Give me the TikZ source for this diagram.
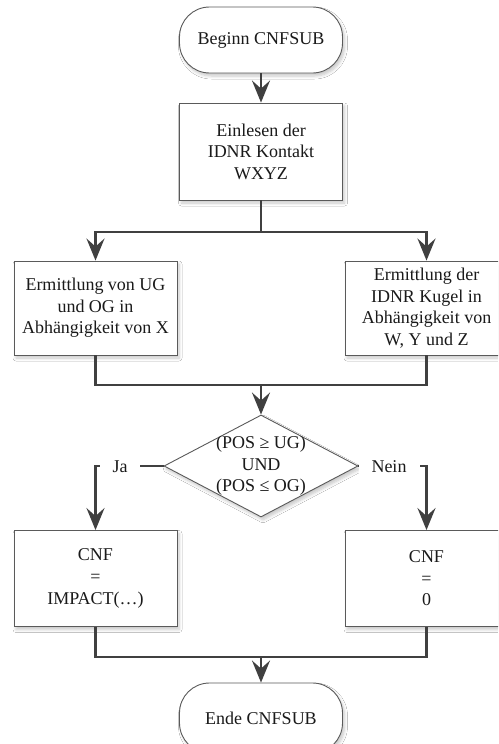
\documentclass[tikz,border=0pt]{standalone}
\usepackage{fontspec}
\setmainfont{Liberation Serif}
\usetikzlibrary{arrows.meta,shapes.geometric,shadows.blur}

\definecolor{linegray}{HTML}{404040}
\definecolor{framegray}{HTML}{5A5A5A}
\definecolor{textdark}{HTML}{1A1A1A}

\tikzset{
  every node/.style={font=\fontsize{18pt}{21.6pt}\selectfont, text=textdark},
  softshadow/.style={blur shadow={shadow xshift=2pt, shadow yshift=-3pt,
      shadow blur steps=6, shadow opacity=22, shadow blur radius=3pt}},
  procbox/.style={draw=framegray, line width=0.9pt, fill=white, softshadow,
      minimum width=163pt, align=center, inner sep=0pt},
  terminal/.style={draw=framegray, line width=0.9pt, fill=white, softshadow,
      rounded corners=30pt, minimum width=163pt, minimum height=66pt, inner sep=0pt},
  decision/.style={draw=framegray, line width=0.9pt, fill=white, softshadow,
      diamond, minimum width=194pt, minimum height=102pt, inner sep=0pt},
  txt/.style={align=center, inner sep=0pt},
  flow/.style={draw=linegray, line width=2.4pt},
  arrow/.style={flow, -{Stealth[length=22pt, width=18pt, inset=8pt]}},
  branchlabel/.style={fill=white, inner xsep=13pt, inner ysep=3pt},
}

\begin{document}
\begin{tikzpicture}[x=1pt, y=-1pt]
  \clip (0,0) rectangle (498,744);
  \fill[white] (0,0) rectangle (498,744);

  % nodes
  \node[terminal] (start) at (261,40) {Beginn CNFSUB};
  \node[procbox, minimum height=97pt] (read) at (261,151.5)
    {Einlesen der\\IDNR Kontakt\\WXYZ};
  \node[procbox, minimum height=94pt] (bounds) at (95.5,308)
    {Ermittlung von UG\\und OG in\\Abhängigkeit von X};
  \node[procbox, minimum height=94pt] (ball) at (426.5,308)
    {Ermittlung der\\IDNR Kugel in\\Abhängigkeit von\\W, Y und Z};
  \node[decision] (dec) at (261,466) {};
  \node[txt] (dectext) at (dec.center) {(POS ≥ UG)\\UND\\(POS ≤ OG)};
  \node[procbox, minimum height=96pt] (impact) at (95.5,578.5)
    {CNF\\=\\IMPACT(…)};
  \node[procbox, minimum height=96pt] (zero) at (426.5,578.5)
    {CNF\\=\\0};
  \node[terminal, minimum height=70pt] (finish) at (261,718) {Ende CNFSUB};

  % junction points
  \coordinate (split) at (261,232);
  \coordinate (merge) at (261,385);
  \coordinate (join) at (261,657);

  % connectors
  \draw[arrow] (start) -- (read);
  \draw[flow] (read.south) -- (split);
  \draw[arrow] (split) -| (bounds.north);
  \draw[arrow] (split) -| (ball.north);

  \draw[flow] (bounds.south) |- (merge) -| (ball.south);
  \draw[arrow] (merge) -- (dec.north);

  \draw[arrow] (dec.west) -| (impact.north);
  \draw[arrow] (dec.east) -| (zero.north);
  \node[branchlabel] (ja) at (120,467) {Ja};
  \node[branchlabel] (nein) at (389,467) {Nein};

  \draw[flow] (impact.south) |- (join) -| (zero.south);
  \draw[arrow] (join) -- (finish.north);
\end{tikzpicture}
\end{document}
